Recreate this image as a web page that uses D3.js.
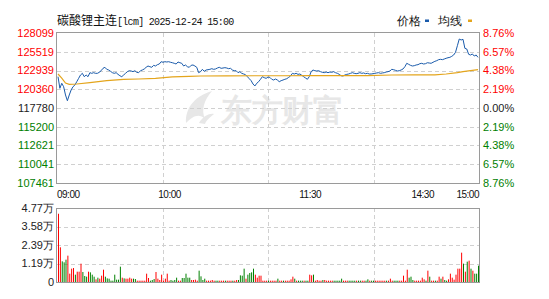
<!DOCTYPE html>
<html>
<head>
<meta charset="utf-8">
<script src="https://cdn.jsdelivr.net/npm/d3@7"></script>
<style>
  body { margin: 0; background: #fff; }
  text { font-family: "Liberation Sans", Arial, sans-serif; }
</style>
</head>
<body>
<div id="app"></div>
<script>
const titleName = '碳酸锂主连';
const titleCode = '[lcm] 2025-12-24 15:00';
const preClose = 117780;
const priceTicks = [128099, 125519, 122939, 120360, 117780, 115200, 112621, 110041, 107461];
const timeLabels = ['09:00', '10:00', '11:30', '14:30', '15:00'];
const timeLabelMinute = [0, 60, 135, 195, 225];
const volMax = 47700;
const volTickLabels = ['4.77万', '3.58万', '2.39万', '1.19万', '0'];

// one value per trading minute (09:00-10:15, 10:30-11:30, 13:30-15:00)
const prices = [
  122090, 120490, 121180, 120710, 119570, 118780, 119570, 120260, 120710, 120940,
  121400, 121860, 122320, 122550, 122090, 122320, 122090, 122640, 122550, 122640,
  122550, 122550, 122690, 122910, 123240, 123380, 123100, 123010, 122830, 122640,
  122550, 122640, 122410, 122220, 122090, 122320, 122550, 122780, 122910, 122870,
  122780, 122910, 122690, 122640, 122910, 123010, 123150, 123380, 123560, 123460,
  123380, 123650, 123560, 123740, 123830, 124150, 124070, 124150, 124110, 124150,
  124070, 124010, 123930, 123830, 124110, 124010, 123930, 123560, 123700, 123460,
  123380, 123650, 123700, 123560, 123380, 122640, 122780, 123100, 122830, 123010,
  123050, 123100, 123190, 123100, 123150, 123280, 123380, 123240, 123280, 123330,
  123280, 123190, 123240, 123010, 122910, 122910, 122640, 122780, 122550, 122460,
  122360, 122090, 121810, 121540, 121080, 120810, 121180, 121400, 121730, 122090,
  121950, 121860, 122040, 121990, 121730, 121630, 121770, 121630, 121400, 121540,
  121630, 121730, 121810, 121990, 122180, 122550, 122460, 122550, 122410, 122460,
  122280, 122090, 121910, 121730, 122090, 122780, 123010, 122910, 122870, 122910,
  122780, 122690, 122640, 122730, 122640, 122730, 122690, 122780, 122640, 122550,
  122410, 122220, 122180, 122320, 122410, 122460, 122550, 122640, 122550, 122500,
  122550, 122640, 122550, 122600, 122500, 122550, 122460, 122460, 122500, 122550,
  122600, 122640, 122550, 122600, 122640, 122730, 122780, 122870, 123100, 123050,
  122960, 122870, 122910, 123010, 123150, 123460, 123930, 123790, 123650, 123560,
  123600, 123700, 123740, 123880, 123930, 123830, 123880, 124010, 123970, 123930,
  124070, 124200, 124290, 124430, 124480, 124430, 124520, 124620, 124700, 124750,
  124890, 125070, 125440, 126350, 127270, 127140, 127230, 125990, 125900, 125170,
  125070, 125210, 124930, 125070, 124750
];

const avgMinute = [0, 2, 4, 6, 10, 17, 26, 35, 43, 52, 61, 70, 76, 90, 105, 120, 135, 150, 165, 178, 190, 201, 207, 213, 216, 220, 224];
const avgPrice = [122460, 121900, 121220, 121040, 121080, 121260, 121540, 121730, 121770, 121860, 122050, 122140, 122180, 122210, 122220, 122220, 122230, 122230, 122240, 122320, 122330, 122340, 122460, 122640, 122780, 122910, 123050];

const volumes = [
  44000, 22360, 13330, 12680, 14400, 16980, 5370, 8600, 9000, 4730,
  6660, 6660, 11820, 6450, 3870, 3440, 6660, 6230, 4730, 3440,
  1720, 2790, 2150, 4080, 7950, 3440, 2360, 2150, 860, 860,
  4730, 1500, 1500, 9880, 2790, 2360, 2150, 2150, 2790, 2150,
  2150, 1930, 860, 860, 860, 860, 860, 5370, 2580, 860,
  1290, 1930, 6450, 2150, 1290, 4730, 860, 2150, 5370, 860,
  1290, 860, 1290, 2790, 860, 860, 2580, 2580, 5370, 2790,
  2790, 1290, 1290, 1500, 860, 7310, 3650, 1290, 2150, 860,
  860, 860, 1290, 860, 860, 860, 860, 860, 860, 860,
  860, 860, 860, 860, 860, 1290, 1290, 4300, 4080, 8600,
  2150, 4730, 5800, 6230, 8600, 4730, 2790, 4080, 4080, 860,
  860, 860, 860, 860, 860, 860, 860, 2150, 860, 860,
  860, 860, 860, 860, 1720, 3440, 2150, 860, 860, 860,
  860, 860, 860, 860, 4730, 4300, 4730, 860, 1290, 860,
  860, 1290, 1290, 860, 860, 860, 860, 860, 860, 860,
  860, 2150, 860, 860, 860, 860, 860, 860, 860, 860,
  860, 860, 860, 860, 860, 1720, 860, 860, 860, 860,
  860, 860, 860, 860, 860, 860, 860, 2150, 860, 860,
  860, 860, 860, 860, 4080, 860, 7950, 2790, 3440, 1290,
  860, 860, 860, 860, 2790, 1720, 860, 7310, 3440, 860,
  860, 860, 860, 3440, 2150, 3440, 1290, 860, 1720, 5370,
  2790, 1500, 4730, 8600, 8600, 18910, 11820, 6660, 13110, 13750,
  8600, 7310, 5370, 5370, 10530
];
// R = up minute, G = down minute
const volSide = (
  'RRGGGRRRRG' + 'RRRGGGRGGG' + 'RGRRRGGGGG' + 'GGGGRGRRRR' + 'GGRRRRRRRG' +
  'GGRRRRRRRR' + 'GGGGRRGGGG' + 'GRRRRGGGGR' + 'RRRRGGRRRG' + 'RRRGRRGGGG' +
  'RGGGGRRRRR' + 'RRGRRRRGRR' + 'GRRRRRGRGG' + 'GRGGRRGRRR' + 'RGRRRRRGGG' +
  'GGRRRGGGGR' + 'GGRRGGRGGR' + 'RRRRRGRRRG' + 'GGRRRRRGGG' + 'RRRRRRGRGR' +
  'RGRRGRGGRR' + 'RRRRRRGRGR' + 'GRGGG'
).split('');

function render() {
  const width = 549;
  const height = 299;
  const left = 57, right = 479;
  const top = 33, bottom = 183;
  const vTop = 208, vBottom = 282;
  const red = '#ff0000', green = '#008000', dark = '#222';
  const gridColor = '#d0d0d0', borderColor = '#9a9a9a';

  const svg = d3.select('#app').append('svg').attr('width', width).attr('height', height);

  const x = d3.scaleLinear([0, prices.length - 1], [58, 478]);
  const xTime = d3.scaleLinear([0, 225], [left, right]);
  const y = d3.scaleLinear([d3.min(priceTicks), d3.max(priceTicks)], [bottom, top]);
  const yVol = d3.scaleLinear([0, volMax], [vBottom, vTop]);
  const volTicks = d3.range(5).map(i => volMax * (4 - i) / 4);
  const crisp = v => Math.round(v) + 0.5;

  // watermark
  const wm = svg.append('g').attr('fill', '#e7e7e7');
  wm.append('path')
    .attr('d', 'M186,123 C185,108 195,96 212,91 C204,100 201,110 205,119 C199,113 193,116 186,123 Z M199,123 C203,116 210,113 214,114 C210,117 206,121 205,124 Z');
  wm.append('text')
    .text('东方财富')
    .attr('x', 221)
    .attr('y', 121)
    .attr('font-family', 'Noto Sans CJK SC')
    .attr('font-weight', 'bold')
    .attr('font-size', 31)
    .attr('letter-spacing', -0.5);

  // grid
  const grid = svg.append('g')
    .attr('stroke', gridColor)
    .attr('stroke-dasharray', '4,3');
  grid.selectAll('line.h')
    .data(priceTicks.slice(1, -1))
    .join('line')
    .attr('x1', left).attr('x2', right)
    .attr('y1', d => crisp(y(d))).attr('y2', d => crisp(y(d)));
  grid.selectAll('line.vh')
    .data(volTicks.slice(1, -1))
    .join(enter => enter.append('line'))
    .attr('x1', left).attr('x2', right)
    .attr('y1', d => crisp(yVol(d))).attr('y2', d => crisp(yVol(d)));
  [1, 2, 3].forEach(k => {
    const gx = crisp(left + (right - left) * k / 4);
    grid.append('line').attr('x1', gx).attr('x2', gx).attr('y1', top).attr('y2', bottom);
    grid.append('line').attr('x1', gx).attr('x2', gx).attr('y1', vTop).attr('y2', vBottom);
  });

  // borders
  svg.append('rect')
    .attr('x', left - 0.5).attr('y', top - 0.5)
    .attr('width', right - left + 1).attr('height', bottom - top + 1)
    .attr('fill', 'none').attr('stroke', borderColor);
  svg.append('rect')
    .attr('x', left - 0.5).attr('y', vTop + 0.5)
    .attr('width', right - left + 1).attr('height', vBottom - vTop)
    .attr('fill', 'none').attr('stroke', borderColor);

  // price + average lines
  svg.append('path')
    .datum(prices)
    .attr('fill', 'none')
    .attr('stroke', '#1a5bab')
    .attr('stroke-width', 1)
    .attr('d', d3.line().x((d, i) => x(i)).y(d => y(d)));
  svg.append('path')
    .datum(avgMinute.map((m, i) => [m, avgPrice[i]]))
    .attr('fill', 'none')
    .attr('stroke', '#e4a51c')
    .attr('stroke-width', 1.2)
    .attr('d', d3.line().x(d => x(d[0])).y(d => y(d[1])));

  // volume bars
  svg.append('g').selectAll('rect')
    .data(volumes)
    .join('rect')
    .attr('x', (d, i) => x(i))
    .attr('width', 1)
    .attr('y', d => yVol(d))
    .attr('height', d => vBottom - yVol(d))
    .attr('fill', (d, i) => volSide[i] === 'R' ? red : green);

  // left price labels
  const tickColor = p => p > preClose ? red : (p < preClose ? green : dark);
  svg.append('g').selectAll('text')
    .data(priceTicks)
    .join('text')
    .text(d => d)
    .attr('x', 54)
    .attr('y', d => y(d))
    .attr('dy', '0.35em')
    .attr('text-anchor', 'end')
    .attr('font-size', 11)
    .attr('fill', tickColor);

  // right percent labels
  svg.append('g').selectAll('text')
    .data(priceTicks)
    .join('text')
    .text(d => Math.abs((d - preClose) / preClose * 100).toFixed(2) + '%')
    .attr('x', 483)
    .attr('y', d => y(d))
    .attr('dy', '0.35em')
    .attr('font-size', 11)
    .attr('fill', tickColor);

  // volume labels
  svg.append('g').selectAll('text')
    .data(volTicks)
    .join('text')
    .text((d, i) => volTickLabels[i])
    .attr('x', 54)
    .attr('y', d => yVol(d))
    .attr('dy', '0.35em')
    .attr('text-anchor', 'end')
    .attr('font-size', 11)
    .attr('fill', dark);

  // time labels
  svg.append('g').selectAll('text')
    .data(timeLabels)
    .join('text')
    .text(d => d)
    .attr('x', (d, i) => xTime(timeLabelMinute[i]))
    .attr('y', 197.5)
    .attr('text-anchor', (d, i) => i === 0 ? 'start' : (i === timeLabels.length - 1 ? 'end' : 'middle'))
    .attr('font-family', 'Liberation Mono')
    .attr('font-size', 10)
    .attr('letter-spacing', -0.5)
    .attr('fill', '#111');

  // title
  const title = svg.append('text').attr('x', 57).attr('y', 25).attr('fill', '#111');
  title.append('tspan').text(titleName)
    .attr('font-family', 'Noto Sans CJK SC').attr('font-size', 12);
  title.append('tspan').text(titleCode)
    .attr('font-family', 'Liberation Mono').attr('font-size', 10).attr('letter-spacing', -0.7);

  // legend
  svg.append('text').text('价格').attr('x', 397).attr('y', 25)
    .attr('font-family', 'Noto Sans CJK SC').attr('font-size', 12).attr('fill', '#111');
  svg.append('rect').attr('x', 425).attr('y', 19.5).attr('width', 4).attr('height', 2.5).attr('fill', '#1a5bab');
  svg.append('text').text('均线').attr('x', 438).attr('y', 25)
    .attr('font-family', 'Noto Sans CJK SC').attr('font-size', 12).attr('fill', '#111');
  svg.append('rect').attr('x', 468).attr('y', 19.5).attr('width', 4).attr('height', 2.5).attr('fill', '#e4a51c');
}

render();
</script>
</body>
</html>
